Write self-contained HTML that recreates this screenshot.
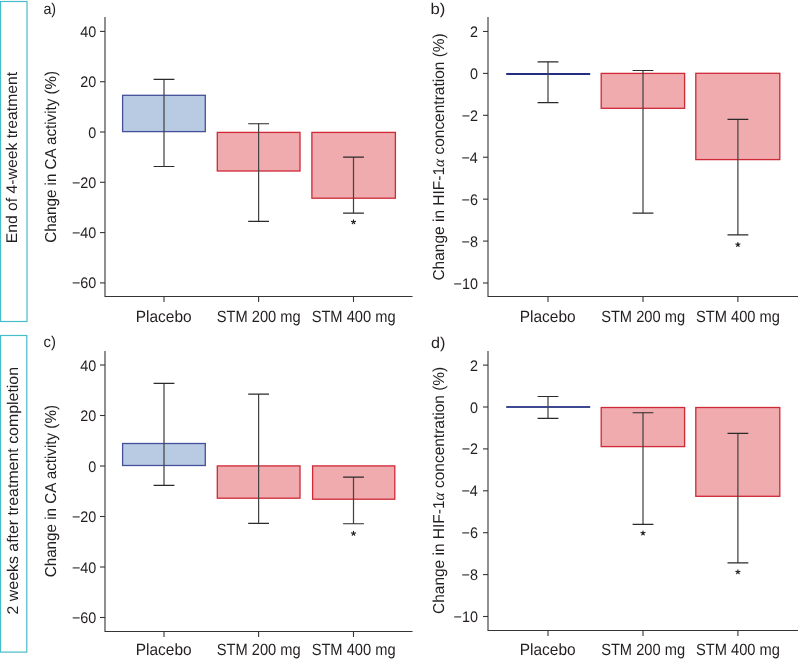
<!DOCTYPE html>
<html><head><meta charset="utf-8"><style>
html,body{margin:0;padding:0;background:#fff;}
svg{display:block;will-change:transform;}
text{font-family:"Liberation Sans", sans-serif;fill:#231f20;text-rendering:geometricPrecision;}
</style></head><body>
<svg width="798" height="660" viewBox="0 0 798 660">
<rect x="0.5" y="1.5" width="26.5" height="320" fill="none" stroke="#47bcc8" stroke-width="1.2"/>
<rect x="0.5" y="335.5" width="26.3" height="316.6" fill="none" stroke="#47bcc8" stroke-width="1.2"/>
<text transform="translate(17.40,243.29) rotate(-90) scale(1.0150,1)" font-size="15.5">End of 4-week treatment</text>
<text transform="translate(18.00,614.39) rotate(-90) scale(1.0256,1)" font-size="15.5">2 weeks after treatment completion</text>
<text transform="translate(56.40,242.76) rotate(-90) scale(0.9596,1)" font-size="15.8">Change in CA activity (%)</text>
<text transform="translate(43.40,13.90) scale(0.9205,1)" font-size="15.5">a)</text>
<rect x="122.6" y="95.3" width="82.70" height="36.30" fill="#b8cbe3" stroke="#464f99" stroke-width="1.3"/>
<rect x="217.3" y="132.4" width="82.70" height="38.60" fill="#efabae" stroke="#cf2836" stroke-width="1.3"/>
<rect x="311.9" y="132.4" width="83.50" height="65.80" fill="#efabae" stroke="#cf2836" stroke-width="1.3"/>
<path d="M164,79.3V166.5" stroke="#444444" stroke-width="1.25" fill="none"/>
<path d="M153.6,79.3H174.4M153.6,166.5H174.4" stroke="#2a2a2a" stroke-width="1.15" fill="none"/>
<path d="M258.6,123.7V221.3" stroke="#444444" stroke-width="1.25" fill="none"/>
<path d="M248.20000000000002,123.7H269.0M248.20000000000002,221.3H269.0" stroke="#2a2a2a" stroke-width="1.15" fill="none"/>
<path d="M353.5,157.1V213.1" stroke="#444444" stroke-width="1.25" fill="none"/>
<path d="M343.1,157.1H363.9M343.1,213.1H363.9" stroke="#2a2a2a" stroke-width="1.15" fill="none"/>
<path d="M353.50,222.00L353.50,219.90M353.50,222.00L355.50,221.35M353.50,222.00L354.73,223.70M353.50,222.00L352.27,223.70M353.50,222.00L351.50,221.35" stroke="#231f20" stroke-width="1.15" stroke-linecap="round" fill="none"/>
<path d="M105,17.1V296.5H412.5" stroke="#353535" stroke-width="1.1" fill="none"/>
<line x1="100" x2="105" y1="31.40" y2="31.40" stroke="#353535" stroke-width="1.1"/>
<text transform="translate(80.35,36.97) scale(0.9400,1)" font-size="15.3">40</text>
<line x1="100" x2="105" y1="81.70" y2="81.70" stroke="#353535" stroke-width="1.1"/>
<text transform="translate(80.35,87.27) scale(0.9400,1)" font-size="15.3">20</text>
<line x1="100" x2="105" y1="132.00" y2="132.00" stroke="#353535" stroke-width="1.1"/>
<text transform="translate(88.35,137.57) scale(0.9400,1)" font-size="15.3">0</text>
<line x1="100" x2="105" y1="182.30" y2="182.30" stroke="#353535" stroke-width="1.1"/>
<text transform="translate(71.95,187.87) scale(0.9400,1)" font-size="15.3">−20</text>
<line x1="100" x2="105" y1="232.60" y2="232.60" stroke="#353535" stroke-width="1.1"/>
<text transform="translate(71.95,238.17) scale(0.9400,1)" font-size="15.3">−40</text>
<line x1="100" x2="105" y1="282.90" y2="282.90" stroke="#353535" stroke-width="1.1"/>
<text transform="translate(71.95,288.47) scale(0.9400,1)" font-size="15.3">−60</text>
<line x1="164" x2="164" y1="296.5" y2="302.0" stroke="#353535" stroke-width="1.1"/>
<text transform="translate(135.73,321.50) scale(0.9490,1)" font-size="16.3">Placebo</text>
<line x1="258.6" x2="258.6" y1="296.5" y2="302.0" stroke="#353535" stroke-width="1.1"/>
<text transform="translate(216.74,321.50) scale(0.9003,1)" font-size="16.3">STM 200 mg</text>
<line x1="353.5" x2="353.5" y1="296.5" y2="302.0" stroke="#353535" stroke-width="1.1"/>
<text transform="translate(311.64,321.50) scale(0.9003,1)" font-size="16.3">STM 400 mg</text>
<text transform="translate(444.30,280.57) rotate(-90) scale(0.9798,1)" font-size="15.8">Change in HIF-1<tspan font-family="Liberation Serif" font-style="italic">α</tspan> concentration (%)</text>
<text transform="translate(430.53,13.70) scale(1.0739,1)" font-size="15.5">b)</text>
<line x1="506.2" x2="590.2" y1="73.9" y2="73.9" stroke="#222e86" stroke-width="2"/>
<rect x="601.2" y="73.4" width="83.40" height="34.90" fill="#efabae" stroke="#cf2836" stroke-width="1.3"/>
<rect x="695.8" y="73.3" width="84.00" height="86.30" fill="#efabae" stroke="#cf2836" stroke-width="1.3"/>
<path d="M548.0,61.8V102.6" stroke="#444444" stroke-width="1.25" fill="none"/>
<path d="M537.6,61.8H558.4M537.6,102.6H558.4" stroke="#2a2a2a" stroke-width="1.15" fill="none"/>
<path d="M643,70.5V213.1" stroke="#444444" stroke-width="1.25" fill="none"/>
<path d="M632.6,70.5H653.4M632.6,213.1H653.4" stroke="#2a2a2a" stroke-width="1.15" fill="none"/>
<path d="M737.9,119.3V234.9" stroke="#444444" stroke-width="1.25" fill="none"/>
<path d="M727.5,119.3H748.3M727.5,234.9H748.3" stroke="#2a2a2a" stroke-width="1.15" fill="none"/>
<path d="M737.90,244.60L737.90,242.50M737.90,244.60L739.90,243.95M737.90,244.60L739.13,246.30M737.90,244.60L736.67,246.30M737.90,244.60L735.90,243.95" stroke="#231f20" stroke-width="1.15" stroke-linecap="round" fill="none"/>
<path d="M488,17.1V296.5H798" stroke="#353535" stroke-width="1.1" fill="none"/>
<line x1="483" x2="488" y1="31.48" y2="31.48" stroke="#353535" stroke-width="1.1"/>
<text transform="translate(470.12,37.05) scale(0.9400,1)" font-size="15.3">2</text>
<line x1="483" x2="488" y1="73.40" y2="73.40" stroke="#353535" stroke-width="1.1"/>
<text transform="translate(469.95,78.97) scale(0.9400,1)" font-size="15.3">0</text>
<line x1="483" x2="488" y1="115.32" y2="115.32" stroke="#353535" stroke-width="1.1"/>
<text transform="translate(461.72,120.89) scale(0.9400,1)" font-size="15.3">−2</text>
<line x1="483" x2="488" y1="157.24" y2="157.24" stroke="#353535" stroke-width="1.1"/>
<text transform="translate(461.42,162.81) scale(0.9400,1)" font-size="15.3">−4</text>
<line x1="483" x2="488" y1="199.16" y2="199.16" stroke="#353535" stroke-width="1.1"/>
<text transform="translate(461.62,204.73) scale(0.9400,1)" font-size="15.3">−6</text>
<line x1="483" x2="488" y1="241.08" y2="241.08" stroke="#353535" stroke-width="1.1"/>
<text transform="translate(461.62,246.65) scale(0.9400,1)" font-size="15.3">−8</text>
<line x1="483" x2="488" y1="283.00" y2="283.00" stroke="#353535" stroke-width="1.1"/>
<text transform="translate(453.55,288.57) scale(0.9400,1)" font-size="15.3">−10</text>
<line x1="548.0" x2="548.0" y1="296.5" y2="302.0" stroke="#353535" stroke-width="1.1"/>
<text transform="translate(519.73,321.50) scale(0.9490,1)" font-size="16.3">Placebo</text>
<line x1="643" x2="643" y1="296.5" y2="302.0" stroke="#353535" stroke-width="1.1"/>
<text transform="translate(601.14,321.50) scale(0.9003,1)" font-size="16.3">STM 200 mg</text>
<line x1="737.9" x2="737.9" y1="296.5" y2="302.0" stroke="#353535" stroke-width="1.1"/>
<text transform="translate(696.04,321.50) scale(0.9003,1)" font-size="16.3">STM 400 mg</text>
<text transform="translate(56.40,577.26) rotate(-90) scale(0.9618,1)" font-size="15.8">Change in CA activity (%)</text>
<text transform="translate(43.58,347.40) scale(0.9558,1)" font-size="15.5">c)</text>
<rect x="122.6" y="443.5" width="82.70" height="22.00" fill="#b8cbe3" stroke="#464f99" stroke-width="1.3"/>
<rect x="217.3" y="465.9" width="82.70" height="32.30" fill="#efabae" stroke="#cf2836" stroke-width="1.3"/>
<rect x="312.6" y="465.9" width="82.20" height="33.30" fill="#efabae" stroke="#cf2836" stroke-width="1.3"/>
<path d="M164,383.3V485.3" stroke="#444444" stroke-width="1.25" fill="none"/>
<path d="M153.6,383.3H174.4M153.6,485.3H174.4" stroke="#2a2a2a" stroke-width="1.15" fill="none"/>
<path d="M258.6,394.1V523.3" stroke="#444444" stroke-width="1.25" fill="none"/>
<path d="M248.20000000000002,394.1H269.0M248.20000000000002,523.3H269.0" stroke="#2a2a2a" stroke-width="1.15" fill="none"/>
<path d="M353.5,477.1V523.7" stroke="#444444" stroke-width="1.25" fill="none"/>
<path d="M343.1,477.1H363.9M343.1,523.7H363.9" stroke="#2a2a2a" stroke-width="1.15" fill="none"/>
<path d="M353.50,533.50L353.50,531.40M353.50,533.50L355.50,532.85M353.50,533.50L354.73,535.20M353.50,533.50L352.27,535.20M353.50,533.50L351.50,532.85" stroke="#231f20" stroke-width="1.15" stroke-linecap="round" fill="none"/>
<path d="M105,350.9V631.5H412.5" stroke="#353535" stroke-width="1.1" fill="none"/>
<line x1="100" x2="105" y1="365.00" y2="365.00" stroke="#353535" stroke-width="1.1"/>
<text transform="translate(80.35,370.57) scale(0.9400,1)" font-size="15.3">40</text>
<line x1="100" x2="105" y1="415.50" y2="415.50" stroke="#353535" stroke-width="1.1"/>
<text transform="translate(80.35,421.07) scale(0.9400,1)" font-size="15.3">20</text>
<line x1="100" x2="105" y1="466.00" y2="466.00" stroke="#353535" stroke-width="1.1"/>
<text transform="translate(88.35,471.57) scale(0.9400,1)" font-size="15.3">0</text>
<line x1="100" x2="105" y1="516.50" y2="516.50" stroke="#353535" stroke-width="1.1"/>
<text transform="translate(71.95,522.07) scale(0.9400,1)" font-size="15.3">−20</text>
<line x1="100" x2="105" y1="567.00" y2="567.00" stroke="#353535" stroke-width="1.1"/>
<text transform="translate(71.95,572.57) scale(0.9400,1)" font-size="15.3">−40</text>
<line x1="100" x2="105" y1="617.50" y2="617.50" stroke="#353535" stroke-width="1.1"/>
<text transform="translate(71.95,623.07) scale(0.9400,1)" font-size="15.3">−60</text>
<line x1="164" x2="164" y1="631.5" y2="637.0" stroke="#353535" stroke-width="1.1"/>
<text transform="translate(135.73,654.85) scale(0.9490,1)" font-size="16.3">Placebo</text>
<line x1="258.6" x2="258.6" y1="631.5" y2="637.0" stroke="#353535" stroke-width="1.1"/>
<text transform="translate(216.74,654.85) scale(0.9003,1)" font-size="16.3">STM 200 mg</text>
<line x1="353.5" x2="353.5" y1="631.5" y2="637.0" stroke="#353535" stroke-width="1.1"/>
<text transform="translate(311.64,654.85) scale(0.9003,1)" font-size="16.3">STM 400 mg</text>
<text transform="translate(444.30,613.97) rotate(-90) scale(0.9794,1)" font-size="15.8">Change in HIF-1<tspan font-family="Liberation Serif" font-style="italic">α</tspan> concentration (%)</text>
<text transform="translate(431.02,347.60) scale(1.0438,1)" font-size="15.5">d)</text>
<line x1="506.2" x2="590.2" y1="406.9" y2="406.9" stroke="#3d4a92" stroke-width="2"/>
<rect x="601.2" y="407.5" width="83.40" height="39.10" fill="#efabae" stroke="#cf2836" stroke-width="1.3"/>
<rect x="695.8" y="407.5" width="84.00" height="88.80" fill="#efabae" stroke="#cf2836" stroke-width="1.3"/>
<path d="M548.0,396.5V418.4" stroke="#444444" stroke-width="1.25" fill="none"/>
<path d="M537.6,396.5H558.4M537.6,418.4H558.4" stroke="#2a2a2a" stroke-width="1.15" fill="none"/>
<path d="M643,412.7V524.4" stroke="#444444" stroke-width="1.25" fill="none"/>
<path d="M632.6,412.7H653.4M632.6,524.4H653.4" stroke="#2a2a2a" stroke-width="1.15" fill="none"/>
<path d="M737.9,433.3V562.9" stroke="#444444" stroke-width="1.25" fill="none"/>
<path d="M727.5,433.3H748.3M727.5,562.9H748.3" stroke="#2a2a2a" stroke-width="1.15" fill="none"/>
<path d="M643.00,533.10L643.00,531.00M643.00,533.10L645.00,532.45M643.00,533.10L644.23,534.80M643.00,533.10L641.77,534.80M643.00,533.10L641.00,532.45" stroke="#231f20" stroke-width="1.15" stroke-linecap="round" fill="none"/>
<path d="M737.90,572.00L737.90,569.90M737.90,572.00L739.90,571.35M737.90,572.00L739.13,573.70M737.90,572.00L736.67,573.70M737.90,572.00L735.90,571.35" stroke="#231f20" stroke-width="1.15" stroke-linecap="round" fill="none"/>
<path d="M488,350.9V630.5H798" stroke="#353535" stroke-width="1.1" fill="none"/>
<line x1="483" x2="488" y1="365.10" y2="365.10" stroke="#353535" stroke-width="1.1"/>
<text transform="translate(470.12,370.67) scale(0.9400,1)" font-size="15.3">2</text>
<line x1="483" x2="488" y1="407.00" y2="407.00" stroke="#353535" stroke-width="1.1"/>
<text transform="translate(469.95,412.57) scale(0.9400,1)" font-size="15.3">0</text>
<line x1="483" x2="488" y1="448.90" y2="448.90" stroke="#353535" stroke-width="1.1"/>
<text transform="translate(461.72,454.47) scale(0.9400,1)" font-size="15.3">−2</text>
<line x1="483" x2="488" y1="490.80" y2="490.80" stroke="#353535" stroke-width="1.1"/>
<text transform="translate(461.42,496.37) scale(0.9400,1)" font-size="15.3">−4</text>
<line x1="483" x2="488" y1="532.70" y2="532.70" stroke="#353535" stroke-width="1.1"/>
<text transform="translate(461.62,538.27) scale(0.9400,1)" font-size="15.3">−6</text>
<line x1="483" x2="488" y1="574.60" y2="574.60" stroke="#353535" stroke-width="1.1"/>
<text transform="translate(461.62,580.17) scale(0.9400,1)" font-size="15.3">−8</text>
<line x1="483" x2="488" y1="616.50" y2="616.50" stroke="#353535" stroke-width="1.1"/>
<text transform="translate(453.55,622.07) scale(0.9400,1)" font-size="15.3">−10</text>
<line x1="548.0" x2="548.0" y1="630.5" y2="636.0" stroke="#353535" stroke-width="1.1"/>
<text transform="translate(519.73,654.85) scale(0.9490,1)" font-size="16.3">Placebo</text>
<line x1="643" x2="643" y1="630.5" y2="636.0" stroke="#353535" stroke-width="1.1"/>
<text transform="translate(601.14,654.85) scale(0.9003,1)" font-size="16.3">STM 200 mg</text>
<line x1="737.9" x2="737.9" y1="630.5" y2="636.0" stroke="#353535" stroke-width="1.1"/>
<text transform="translate(696.04,654.85) scale(0.9003,1)" font-size="16.3">STM 400 mg</text>
</svg>
</body></html>
